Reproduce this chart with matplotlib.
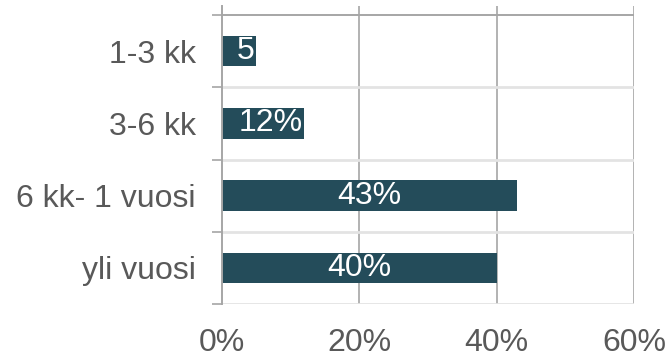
import matplotlib
matplotlib.use("Agg")
import matplotlib.pyplot as plt
import numpy as np

categories = ["1-3 kk", "3-6 kk", "6 kk- 1 vuosi", "yli vuosi"]
values = [5, 12, 43, 40]
bar_labels = ["5", "12%", "43%", "40%"]
xticks = [0, 20, 40, 60]
xticklabels = ["0%", "20%", "40%", "60%"]

plt.rcParams['font.family'] = ['Liberation Sans', 'DejaVu Sans']

fig = plt.figure(figsize=(6.67, 3.58), dpi=100)
ax = fig.add_axes([222/667, 1-304/358, (634-222)/667, (304-6)/358])

bar_color = "#244c5a"
y = np.arange(len(categories))
ax.barh(y, values, height=0.42, color=bar_color, zorder=3)

for yi, v, lab in zip(y, values, bar_labels):
    if v < 15:
        ax.text(v - 0.3, yi, lab, ha='right', va='center', color='white',
                fontsize=23, zorder=4)
    else:
        ax.text(v / 2, yi, lab, ha='center', va='center', color='white',
                fontsize=23, zorder=4)

ax.set_xlim(0, 60)
ax.set_ylim(3.5, -0.625)

# gridlines
for xv in xticks[1:]:
    ax.axvline(xv, color="#a6a6a6", lw=1.2, zorder=1)
bounds = np.arange(len(categories) + 1) - 0.5
for b in bounds:
    if b == bounds[0]:
        ax.axhline(b, color="#a6a6a6", lw=1.4, zorder=2)
    else:
        ax.axhline(b, color="#e3e3e3", lw=2.0, zorder=2)

for s in ['top', 'right', 'bottom']:
    ax.spines[s].set_visible(False)
ax.spines['left'].set_color("#a6a6a6")
ax.spines['left'].set_linewidth(1.4)
ax.spines['left'].set_zorder(5)

ax.set_yticks(y)
ax.set_yticklabels(categories, fontsize=23, color="#595959")
ax.set_yticks(bounds, minor=True)
ax.tick_params(axis='y', which='major', length=0, pad=19)
ax.tick_params(axis='y', which='minor', length=7.2, width=1.2, color="#a6a6a6")

ax.set_xticks(xticks)
ax.set_xticklabels(xticklabels, fontsize=23, color="#595959")
ax.tick_params(axis='x', length=0, pad=17)

fig.savefig("out.png", dpi=100)
